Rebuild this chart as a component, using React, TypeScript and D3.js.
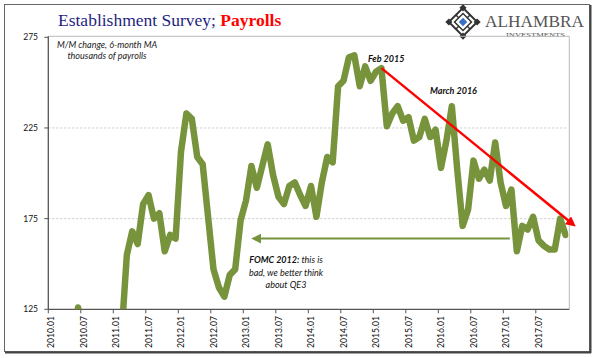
import React from "react";
import * as d3 from "d3";

// Monthly 6-month MA of payroll change, Jan 2010 .. Dec 2017 (thousands)
const payrolls: number[] = [
  -60, -20, 20, 70, 100, 126, 110, 75, 40, 25, 60, 75, 90, 110,
  155, 168, 161, 183, 188, 175, 178, 157, 166, 164, 212, 233, 230, 209, 205, 176, 147, 137, 132, 144,
  147, 174, 185, 204, 192, 204, 216, 199, 187, 183, 193, 195, 188, 182, 193, 176,
  195, 209, 206, 248, 251, 264, 265, 248, 259, 251, 256, 258,
  226, 233, 237, 229, 231, 218, 220, 230, 220, 224, 203, 218,
  237, 202, 171, 180, 207, 197, 202, 196, 217, 195, 182, 191,
  157, 171, 169, 176, 163, 160, 158, 158, 175, 166,
];
const xTickLabels: string[] = [
  "2010.01", "2010.07", "2011.01", "2011.07", "2012.01", "2012.07", "2013.01", "2013.07",
  "2014.01", "2014.07", "2015.01", "2015.07", "2016.01", "2016.07", "2017.01", "2017.07",
];
const yTicks: number[] = [125, 175, 225, 275];
const gridValues: number[] = [175, 225];
// annotations (month index, value)
const trendStart = { m: 61, v: 258 };
const trendEnd = { m: 96.8, v: 172 };
const fomcArrow = { from: 85.2, to: 38.2, v: 164 };

const W = 600, H = 358;
const left = 48.3, right = 568.3, top = 37.3, bottom = 309.3;
const GREEN = "#77933C";

export default function App() {
  const x = d3.scaleLinear().domain([0, payrolls.length]).range([left, right]);
  const y = d3.scaleLinear().domain([125, 275]).range([bottom, top]);
  const line = d3.line<number>().x((_, i) => x(i + 0.5)).y((d) => y(d));
  const font = "Lato, 'Open Sans', sans-serif";

  const ts = { x: x(trendStart.m + 0.5), y: y(trendStart.v) };
  const te = { x: x(trendEnd.m), y: y(trendEnd.v) };
  const fa1 = x(fomcArrow.from), fa2 = x(fomcArrow.to), fay = y(fomcArrow.v);

  return (
    <svg width={W} height={H} style={{ position: "absolute", left: 0, top: 0, background: "#fff" }}>
      <defs>
        <clipPath id="plot">
          <rect x={left} y={top - 2} width={right - left} height={bottom - top + 2} />
        </clipPath>
        <marker id="redhead" viewBox="0 0 10 10" refX="6" refY="5" markerWidth="4" markerHeight="4" orient="auto">
          <path d="M0,0 L10,5 L0,10 z" fill="#FF0000" />
        </marker>
        <marker id="greenhead" viewBox="0 0 10 10" refX="2" refY="5" markerWidth="5" markerHeight="5" orient="auto-start-reverse">
          <path d="M0,0 L10,5 L0,10 z" fill={GREEN} />
        </marker>
      </defs>
      {/* outer frame */}
      <rect x={4.5} y={4.5} width={585} height={347} fill="none" stroke="#666" strokeWidth={1} />
      <line x1={590.5} y1={5} x2={590.5} y2={353} stroke="#444" strokeWidth={2} />
      <line x1={5} y1={352.5} x2={591} y2={352.5} stroke="#444" strokeWidth={2} />

      {/* title */}
      <text x={58} y={26} fontFamily="'Liberation Serif', 'DejaVu Serif', serif" fontSize={17.5}>
        <tspan fill="#1F1F80">Establishment Survey; </tspan>
        <tspan fill="#FF0000" fontWeight="bold">Payrolls</tspan>
      </text>

      {/* logo */}
      <g transform="translate(463,22) rotate(45)" stroke="#333" fill="none">
        <rect x={-10} y={-10} width={20} height={20} strokeWidth={2} />
        <rect x={-6} y={-6} width={12} height={12} strokeWidth={1.5} />
        <line x1={-10} y1={0} x2={-6} y2={0} strokeWidth={1.5} />
        <line x1={10} y1={0} x2={6} y2={0} strokeWidth={1.5} />
        <line x1={0} y1={-10} x2={0} y2={-6} strokeWidth={1.5} />
        <line x1={0} y1={10} x2={0} y2={6} strokeWidth={1.5} />
        <rect x={-12.5} y={-12.5} width={5} height={5} fill="#333" strokeWidth={0} />
        <rect x={7.5} y={-12.5} width={5} height={5} fill="#333" strokeWidth={0} />
        <rect x={-12.5} y={7.5} width={5} height={5} fill="#333" strokeWidth={0} />
        <rect x={7.5} y={7.5} width={5} height={5} fill="#333" strokeWidth={0} />
        <rect x={-3} y={-3} width={6} height={6} fill="#3A6FC8" strokeWidth={0} />
      </g>
      <text x={485} y={27} fontFamily="'Liberation Serif', serif" fontSize={17} fill="#555" textLength={99} lengthAdjust="spacingAndGlyphs">ALHAMBRA</text>
      <text x={506} y={36.5} fontFamily="'Liberation Serif', serif" fontSize={7} fill="#555" textLength={59} lengthAdjust="spacingAndGlyphs">INVESTMENTS</text>

      {/* plot border (top/right) */}
      <line x1={left} y1={top - 1} x2={right + 1} y2={top - 1} stroke="#bbb" strokeWidth={1} />
      <line x1={right + 1} y1={top - 1} x2={right + 1} y2={bottom} stroke="#bbb" strokeWidth={1} />

      {/* gridlines */}
      {gridValues.map((v) => (
        <line key={v} x1={left} x2={right} y1={y(v)} y2={y(v)} stroke="#c8c8c8" strokeDasharray="2,2" strokeWidth={1} />
      ))}

      {/* axes */}
      <line x1={left} y1={top - 1} x2={left} y2={bottom} stroke="#555" strokeWidth={1.3} />
      <line x1={left} y1={bottom} x2={right + 1} y2={bottom} stroke="#555" strokeWidth={1.3} />
      {yTicks.map((v) => (
        <g key={v}>
          <line x1={left - 4} x2={left} y1={y(v)} y2={y(v)} stroke="#555" />
          <text x={38} y={y(v) + 3} textAnchor="end" fontFamily={font} fontSize={8.5} fill="#111">{v}</text>
        </g>
      ))}
      {xTickLabels.map((lab, k) => {
        const i = k * 6;
        const xc = x(i + 0.5) + 3;
        return (
          <g key={lab}>
            <line x1={x(i)} x2={x(i)} y1={bottom} y2={bottom + 4} stroke="#555" />
            <text transform={`translate(${xc},${316}) rotate(-90)`} textAnchor="end" fontFamily={font} fontSize={8.6} fill="#111">{lab}</text>
          </g>
        );
      })}

      {/* subtitle */}
      <text x={107} y={48} textAnchor="middle" fontFamily={font} fontStyle="italic" fontSize={9} fill="#222">M/M change, 6-month MA</text>
      <text x={107} y={59} textAnchor="middle" fontFamily={font} fontStyle="italic" fontSize={9} fill="#222">thousands of payrolls</text>

      {/* data line */}
      <g clipPath="url(#plot)">
        <path d={line(payrolls) || ""} fill="none" stroke={GREEN} strokeWidth={6.5} strokeLinejoin="round" strokeLinecap="round" />
      </g>

      {/* trend arrow */}
      <line x1={ts.x} y1={ts.y} x2={te.x} y2={te.y} stroke="#FF0000" strokeWidth={2.5} markerEnd="url(#redhead)" />
      {/* FOMC arrow */}
      <line x1={fa1} y1={fay} x2={fa2 + 4} y2={fay} stroke={GREEN} strokeWidth={2} markerEnd="url(#greenhead)" />

      {/* annotations */}
      <text x={368} y={61.5} fontFamily={font} fontStyle="italic" fontWeight="bold" fontSize={9} fill="#111">Feb 2015</text>
      <text x={430} y={94} fontFamily={font} fontStyle="italic" fontWeight="bold" fontSize={9} fill="#111">March 2016</text>
      <text x={286} y={263} textAnchor="middle" fontFamily={font} fontStyle="italic" fontSize={9} fill="#111">
        <tspan fontWeight="bold">FOMC 2012:</tspan> this is
      </text>
      <text x={286} y={275.5} textAnchor="middle" fontFamily={font} fontStyle="italic" fontSize={9} fill="#111">bad, we better think</text>
      <text x={286} y={288} textAnchor="middle" fontFamily={font} fontStyle="italic" fontSize={9} fill="#111">about QE3</text>
    </svg>
  );
}
